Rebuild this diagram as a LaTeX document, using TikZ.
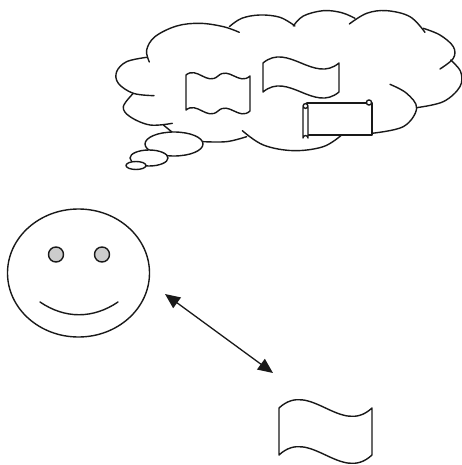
\documentclass[tikz,border=0pt]{standalone}
\usetikzlibrary{arrows.meta}
\begin{document}
\begin{tikzpicture}[x=1pt,y=-1pt,line width=1.4pt,line cap=round,line join=round,
  lobe/.style={draw=black!90},
  shapeline/.style={draw=black!90,fill=white},
  dblarrow/.style={draw=black!90,line width=1.3pt,{Triangle[length=15pt,width=13pt]}-{Triangle[length=15pt,width=13pt]}}]
\useasboundingbox (0,0) rectangle (462,465);
% cloud, coordinates taken at 3x
\begin{scope}[shift={(110,0)},x=0.3333pt,y=-0.3333pt]
\draw[lobe] plot[smooth,tension=0.6] coordinates {(118,186)(110,150)(135,110)(200,78)(270,70)(340,80)(388,97)};
\draw[lobe] plot[smooth,tension=0.6] coordinates {(358,80)(395,55)(450,45)(510,52)(555,78)};
\draw[lobe] plot[smooth,tension=0.6] coordinates {(550,78)(580,48)(640,32)(695,38)(735,55)};
\draw[lobe] plot[smooth,tension=0.6] coordinates {(718,72)(770,40)(830,32)(900,50)(945,97)};
\draw[lobe] plot[smooth,tension=0.6] coordinates {(940,85)(990,105)(1030,140)(1030,175)(990,207)};
\draw[lobe] plot[smooth,tension=0.6] coordinates {(1022,180)(1052,215)(1050,260)(1000,305)(920,323)};
\draw[lobe] plot[smooth,tension=0.6] coordinates {(840,253)(890,280)(920,325)(880,380)(785,400)};
\draw[lobe] plot[smooth,tension=0.6] coordinates {(695,405)(640,440)(550,452)(460,435)(397,392)};
\draw[lobe] plot[smooth,tension=0.6] coordinates {(410,410)(350,425)(278,425)};
\draw[lobe] plot[smooth,tension=0.6] coordinates {(187,370)(120,375)(60,350)(40,320)(70,280)};
\draw[lobe] plot[smooth,tension=0.6] coordinates {(132,287)(70,280)(25,250)(20,215)(50,185)(110,172)};
\draw[lobe] (160,375) -- (187,397);
\end{scope}
% thought bubbles
\path[shapeline] (174,144) ellipse [x radius=29,y radius=12];
\path[shapeline] (149,158) ellipse [x radius=19,y radius=8];
\path[shapeline] (136,165.5) ellipse [x radius=10,y radius=4];
% double wave flag
\path[shapeline] (186,75) .. controls (197,66) and (207,86) .. (218,76) .. controls (229,66) and (239,86) .. (250,76)
  -- (250,111) .. controls (239,121) and (229,101) .. (218,111) .. controls (207,121) and (197,101) .. (186,110) -- cycle;
% single wave flag
\path[shapeline] (263,63) .. controls (288,42) and (314,84) .. (339,63) -- (339,92) .. controls (314,113) and (288,71) .. (263,92) -- cycle;
% scroll
\path[shapeline] (307,103) -- (372,103) -- (372,135) -- (307,135) -- cycle;
\path[shapeline] (369,102.5) circle [radius=2.6];
\path[shapeline] (303,108) -- (303,138) arc[start angle=180,end angle=360,radius=2.5] -- (308,108) arc[start angle=0,end angle=-180,radius=2.5] -- cycle;
\path[shapeline] (305.5,106) circle [radius=2.4];
% face
\path[shapeline] (78.5,273) ellipse [x radius=71,y radius=64];
\path[shapeline,fill=black!20] (56,254.5) circle [radius=7.5];
\path[shapeline,fill=black!20] (102,254.5) circle [radius=7.5];
\draw[draw=black!90] (40,302) .. controls (65,319) and (93,319) .. (118,302);
% flag bottom
\path[shapeline] (279,408) .. controls (310,379) and (341,437) .. (372,408) -- (372,455) .. controls (341,484) and (310,426) .. (279,455) -- cycle;
% arrow
\coordinate (arrowa) at (165,294);
\coordinate (arrowb) at (273,373);
\draw[dblarrow] (arrowa) -- (arrowb);
\end{tikzpicture}
\end{document}
